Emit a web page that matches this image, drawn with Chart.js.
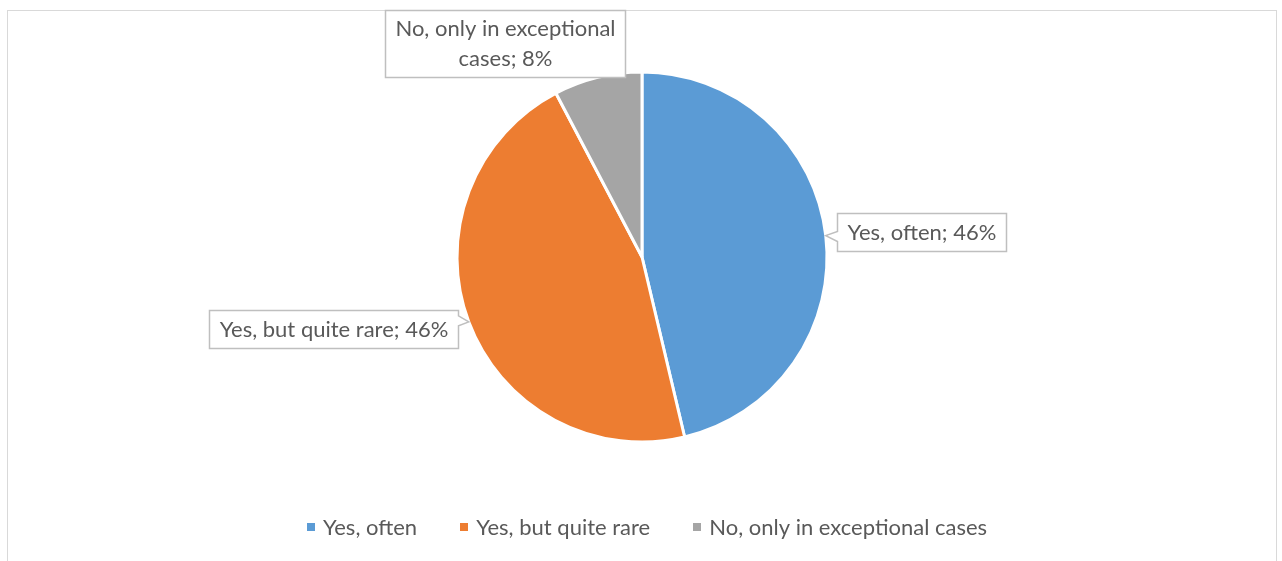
<!DOCTYPE html>
<html>
<head>
<meta charset="utf-8">
<script src="https://cdn.jsdelivr.net/npm/chart.js@4.4.1/dist/chart.umd.min.js"></script>
<style>
  html, body { margin: 0; padding: 0; background: #ffffff; }
  #wrap { width: 1282px; height: 561px; position: relative; }
</style>
</head>
<body>
<div id="wrap"><canvas id="chartFrequence"></canvas></div>
<script>
// données du camembert
var categories = ['Yes, often', 'Yes, but quite rare', 'No, only in exceptional cases'];
var valeurs = [46.3, 46.0, 7.7];
var couleurs = ['#5b9bd5', '#ed7d31', '#a5a5a5'];

var policeTexte = 'Lato, "Open Sans", sans-serif';
var couleurTexte = '#595959';

// position des bulles autour du point milieu de chaque part
var bulles = [
    { cote: 'droite', dx: 11, dy: -4, lignes: null },
    { cote: 'gauche', dx: -11, dy: 7, lignes: null },
    { cote: 'haut', dx: -93, dy: 0, lignes: ['No, only in exceptional', 'cases; 8%'] }
];

function pourcentage(i) {
    var total = valeurs.reduce(function (a, b) { return a + b; }, 0);
    return Math.round(valeurs[i] / total * 100);
}

// cadre gris autour du graphe
const pluginCadre = {
    id: 'cadre',
    beforeDraw(chart) {
        const ctx = chart.ctx;
        ctx.save();
        ctx.strokeStyle = '#d9d9d9';
        ctx.lineWidth = 1;
        ctx.strokeRect(7.5, 10.5, 1269, 600);
        ctx.restore();
    }
};

// étiquettes en bulle + légende du bas
const pluginEtiquettes = {
    id: 'etiquettes',
    afterDraw(chart) {
        const ctx = chart.ctx;
        const meta = chart.getDatasetMeta(0);
        ctx.save();
        ctx.font = '22px ' + policeTexte;
        ctx.textBaseline = 'middle';

        meta.data.forEach(function (arc, i) {
            const p = arc.getProps(['x', 'y', 'startAngle', 'endAngle', 'outerRadius'], true);
            const mid = (p.startAngle + p.endAngle) / 2;
            const tx = p.x + Math.cos(mid) * p.outerRadius;
            const ty = p.y + Math.sin(mid) * p.outerRadius;
            const b = bulles[i];
            const lignes = b.lignes || [categories[i] + '; ' + pourcentage(i) + '%'];
            var larg = 0;
            lignes.forEach(function (l) { larg = Math.max(larg, ctx.measureText(l).width); });
            const w = Math.round(larg + 20);
            const h = lignes.length == 1 ? 38 : 67;
            var bx, by;
            if (b.cote == 'droite') { bx = tx + b.dx; by = ty + b.dy - h / 2; }
            else if (b.cote == 'gauche') { bx = tx + b.dx - w; by = ty + b.dy - h / 2; }
            else { bx = tx + b.dx - w / 2; by = ty + b.dy - h; }
            bx = Math.round(bx) + 0.5; by = Math.round(by) + 0.5;

            // bulle avec sa pointe vers la part
            ctx.beginPath();
            if (b.cote == 'droite') {
                ctx.moveTo(bx, by);
                ctx.lineTo(bx + w, by);
                ctx.lineTo(bx + w, by + h);
                ctx.lineTo(bx, by + h);
                ctx.lineTo(bx, ty + 6);
                ctx.lineTo(tx, ty);
                ctx.lineTo(bx, ty - 4);
                ctx.closePath();
            } else if (b.cote == 'gauche') {
                ctx.moveTo(bx, by);
                ctx.lineTo(bx + w, by);
                ctx.lineTo(bx + w, ty - 6);
                ctx.lineTo(tx, ty);
                ctx.lineTo(bx + w, ty + 4);
                ctx.lineTo(bx + w, by + h);
                ctx.lineTo(bx, by + h);
                ctx.closePath();
            } else {
                ctx.rect(bx, by, w, h);
            }
            ctx.fillStyle = '#ffffff';
            ctx.fill();
            ctx.strokeStyle = '#bfbfbf';
            ctx.lineWidth = 1.5;
            ctx.stroke();

            ctx.fillStyle = couleurTexte;
            ctx.textAlign = 'center';
            const lh = 30;
            const y0 = by + h / 2 - (lignes.length - 1) * lh / 2;
            lignes.forEach(function (l, k) {
                ctx.fillText(l, bx + w / 2, y0 + k * lh);
            });
        });

        // légende
        ctx.textAlign = 'left';
        const carre = 8, ecart = 8, entre = 43;
        var total = 0;
        const largeurs = categories.map(function (c) { return carre + ecart + ctx.measureText(c).width; });
        largeurs.forEach(function (l) { total += l; });
        total += entre * (categories.length - 1);
        var x = 647 - total / 2;
        const y = 528;
        categories.forEach(function (c, i) {
            ctx.fillStyle = couleurs[i];
            ctx.fillRect(Math.round(x), y - 5, carre, carre);
            ctx.fillStyle = couleurTexte;
            ctx.fillText(c, x + carre + ecart, y);
            x += largeurs[i] + entre;
        });
        ctx.restore();
    }
};

const ctxCamembert = document.getElementById('chartFrequence').getContext('2d');
new Chart(ctxCamembert, {
    type: 'pie',
    data: {
        labels: categories,
        datasets: [{
            data: valeurs,
            backgroundColor: couleurs,
            borderColor: '#ffffff',
            borderWidth: 3,
            radius: 185
        }]
    },
    options: {
        responsive: true,
        maintainAspectRatio: false,
        animation: false,
        layout: { padding: { left: 2, right: 0, top: 0, bottom: 47 } },
        plugins: {
            legend: { display: false },
            tooltip: { enabled: false }
        }
    },
    plugins: [pluginCadre, pluginEtiquettes]
});
</script>
</body>
</html>
